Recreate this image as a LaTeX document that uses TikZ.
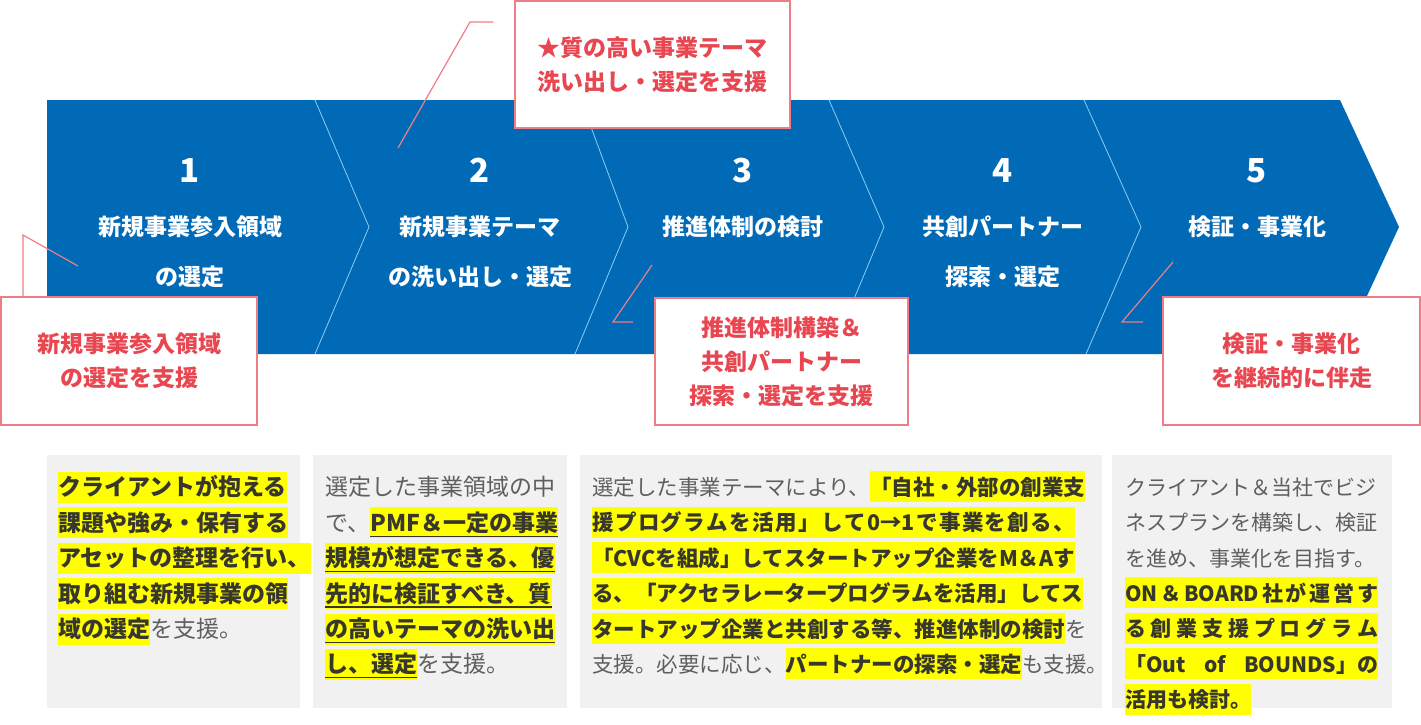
\documentclass[tikz,border=0pt]{standalone}
\usepackage{fontspec}
\setmainfont{Noto Sans CJK JP}
\usepackage{tikz}
\usetikzlibrary{positioning}
\definecolor{cBand}{RGB}{0,106,183}
\definecolor{cSep}{RGB}{140,205,240}
\definecolor{cCallRed}{RGB}{232,70,80}
\definecolor{cCallLine}{RGB}{238,125,135}
\definecolor{cPanel}{RGB}{241,241,241}
\definecolor{cHl}{RGB}{255,255,0}
\definecolor{cTxt}{RGB}{95,95,95}
\definecolor{cTxtDark}{RGB}{55,55,45}
% line struts and highlight markers
\newcommand{\tstrut}{\rule{0pt}{24pt}}
\newcommand{\lnstrut}{\rule[-7pt]{0pt}{31pt}}
\newsavebox{\ulbox}
\newcommand{\hl}[1]{{\setlength{\fboxsep}{0pt}\colorbox{cHl}{\lnstrut\bfseries\color{cTxtDark}#1}}}
\newcommand{\hlu}[1]{{\setlength{\fboxsep}{0pt}\sbox{\ulbox}{\bfseries\color{cTxtDark}#1}%
	\colorbox{cHl}{\lnstrut\rlap{\color{cTxtDark}\rule[-5.5pt]{\wd\ulbox}{1.3pt}}\usebox{\ulbox}}}}
\newcommand{\hlx}[2]{{\setlength{\fboxsep}{0pt}\colorbox{cHl}{\lnstrut\hbox to #1{\bfseries\color{cTxtDark}#2}}}}
\tikzset{
	band/.style={fill=cBand},
	sepline/.style={draw=cSep, line width=0.8pt},
	stepnum/.style={text=white, font=\fontsize{33pt}{33pt}\selectfont\bfseries,
		inner sep=0pt, anchor=base},
	steplabel/.style={text=white, font=\fontsize{23pt}{50pt}\selectfont\bfseries,
		align=center, inner sep=0pt, anchor=north},
	callbox/.style={draw=cCallLine, line width=1.6pt, fill=white, text=cCallRed,
		font=\fontsize{23pt}{34pt}\selectfont\bfseries, align=center, inner sep=0pt},
	callline/.style={draw=cCallLine, line width=1.2pt},
	panel/.style={fill=cPanel},
	paneltext/.style={text=cTxt, align=left, inner sep=0pt, anchor=north west},
}
\begin{document}
\begin{tikzpicture}[x=1pt, y=-1pt]
	\useasboundingbox (0,0) rectangle (1421,724);
	% arrow band
	\fill[band] (47,100) -- (1340,100) -- (1399,227) -- (1340,354) -- (47,354) -- cycle;
	\draw[sepline] (315,100) -- (369,227) -- (315,354);
	\draw[sepline] (581,100) -- (628,227) -- (575,354);
	\draw[sepline] (829,100) -- (884,227) -- (831,354);
	\draw[sepline] (1084,100) -- (1141,227) -- (1086,354);
	% steps
	\node[stepnum] (n1) at (190,182) {1};
	\node[stepnum] (n2) at (480,182) {2};
	\node[stepnum] (n3) at (743,182) {3};
	\node[stepnum] (n4) at (1003,182) {4};
	\node[stepnum] (n5) at (1257,182) {5};
	\node[steplabel] (l1) at (190,211.7) {\tstrut 新規事業参入領域\\の選定};
	\node[steplabel] (l2) at (480,211.7) {\tstrut 新規事業テーマ\\の洗い出し・選定};
	\node[steplabel] (l3) at (743,211.7) {\tstrut 推進体制の検討};
	\node[steplabel] (l4) at (1003,211.7) {\tstrut 共創パートナー\\探索・選定};
	\node[steplabel] (l5) at (1257,211.7) {\tstrut 検証・事業化};
	% callouts
	\coordinate (p1a) at (78,266);
	\coordinate (p1b) at (23,235);
	\coordinate (p2a) at (398,148);
	\coordinate (p2b) at (470,22);
	\coordinate (p2c) at (493,22);
	\coordinate (p3a) at (652,265);
	\coordinate (p3b) at (613,322);
	\coordinate (p3c) at (633,322);
	\coordinate (p5a) at (1173,262);
	\coordinate (p5b) at (1122,322);
	\coordinate (p5c) at (1143,322);
	\node[callbox, minimum width=256pt, minimum height=128pt] (c1) at (129,361)
		{新規事業参入領域\\の選定を支援};
	\node[callbox, minimum width=275pt, minimum height=127pt] (c2) at (652.5,64.5)
		{★質の高い事業テーマ\\洗い出し・選定を支援};
	\node[callbox, minimum width=253pt, minimum height=127pt] (c3) at (781.5,361.5)
		{推進体制構築＆\\共創パートナー\\探索・選定を支援};
	\node[callbox, minimum width=257pt, minimum height=128pt] (c5) at (1291.5,361)
		{検証・事業化\\を継続的に伴走};
	\draw[callline] (p1a) -- (p1b) -- (c1.north -| p1b);
	\draw[callline] (p2a) -- (p2b) -- (p2c);
	\draw[callline] (p3a) -- (p3b) -- (p3c);
	\draw[callline] (p5a) -- (p5b) -- (p5c);
	% detail panels
	\fill[panel] (47,455) rectangle (300,708);
	\fill[panel] (313,455) rectangle (567,708);
	\fill[panel] (580,455) rectangle (1102,708);
	\fill[panel] (1112,455) rectangle (1392,708);
	\node[paneltext, font=\fontsize{23pt}{35.4pt}\selectfont] (t1) at (58,471.7) {%
		\hl{クライアントが抱える}\\
		\hl{課題や強み・保有する}\\
		\hl{アセットの整理を行い、}\\
		\hl{取り組む新規事業の領}\\
		\hl{域の選定}を支援。};
	\node[paneltext, font=\fontsize{23pt}{35.4pt}\selectfont] (t2) at (325,471.7) {%
		\lnstrut 選定した事業領域の中\\
		で、\hlu{PMF＆一定の事業}\\
		\hlu{規模が想定できる、優}\\
		\hlu{先的に検証すべき、質}\\
		\hlu{の高いテーマの洗い出}\\
		\hlu{し、選定}を支援。};
	\node[paneltext, font=\fontsize{21.5pt}{35.4pt}\selectfont] (t3) at (592,471.2) {%
		\lnstrut 選定した事業テーマにより、\hl{「自社・外部の創業支}\\
		\hlx{483pt}{援\hfill プ\hfill ロ\hfill グ\hfill ラ\hfill ム\hfill を\hfill 活\hfill 用\hfill 」\hfill し\hfill て\hfill 0→1\hfill で\hfill 事\hfill 業\hfill を\hfill 創\hfill る\hfill 、}\\
		\hl{「CVCを組成」してスタートアップ企業をM＆Aす}\\
		\hl{る、「アクセラレータープログラムを活用」してス}\\
		\hl{タートアップ企業と共創する等、推進体制の検討}を\\
		支援。必要に応じ、\hl{パートナーの探索・選定}も支援。};
	\node[paneltext, font=\fontsize{21pt}{35.4pt}\selectfont] (t4) at (1125,471) {%
		\lnstrut クライアント＆当社でビジ\\
		ネスプランを構築し、検証\\
		を進め、事業化を目指す。\\
		\hlx{253pt}{ON\hfill ＆\hfill BOARD\hfill 社\hfill が\hfill 運\hfill 営\hfill す}\\
		\hlx{253pt}{る\hfill 創\hfill 業\hfill 支\hfill 援\hfill プ\hfill ロ\hfill グ\hfill ラ\hfill ム}\\
		\hlx{253pt}{「Out\hfill of\hfill BOUNDS」の}\\
		\hl{活用も検討。}};
\end{tikzpicture}
\end{document}
